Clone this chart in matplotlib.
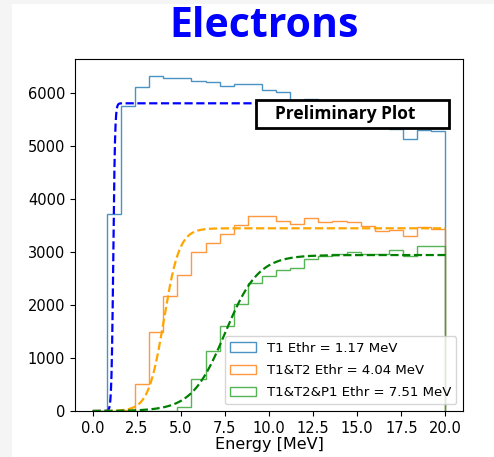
import numpy as np
import matplotlib
matplotlib.use("Agg")
import matplotlib.pyplot as plt
from matplotlib.patches import Rectangle

# bin edges: 25 bins of 0.8 MeV from 0 to 20
bin_lo, bin_hi, n_bins = 0.0, 20.0, 25

t1_counts = [0, 3725, 5750, 6110, 6330, 6285, 6295, 6235, 6205, 6140,
             6170, 6170, 6065, 6015, 5790, 5900, 5760, 5700, 5620, 5520,
             5450, 5320, 5145, 5300, 5290]
t1t2_counts = [0, 0, 10, 515, 1500, 2175, 2575, 3005, 3175, 3350,
               3520, 3678, 3690, 3596, 3540, 3647, 3564, 3583, 3564, 3502,
               3395, 3426, 3295, 3470, 3439]
t1t2p1_counts = [0, 0, 0, 0, 0, 0, 81, 600, 1140, 1598,
                 2020, 2417, 2543, 2656, 2701, 2871, 2934, 2972, 3004, 2972,
                 2960, 3048, 2921, 3123, 3110]

labels = ["T1 Ethr = 1.17 MeV", "T1&T2 Ethr = 4.04 MeV", "T1&T2&P1 Ethr = 7.51 MeV"]

# sigmoid fit parameters: plateau, threshold, width
fit_plateau = [5810, 3450, 2945]
fit_thresh = [1.17, 4.04, 7.51]
fit_width = [0.05, 0.44, 0.94]
fit_colors = ["blue", "orange", "green"]

edges = np.linspace(bin_lo, bin_hi, n_bins + 1)
centers = 0.5 * (edges[:-1] + edges[1:])

fig = plt.figure(figsize=(4.94, 4.57), dpi=100)
fig.patch.set_facecolor("#f5f5f5")
fig.patches.append(Rectangle((12 / 494, 0), 1, (457 - 4) / 457, transform=fig.transFigure,
                             facecolor="white", edgecolor="none", zorder=-1))
ax = fig.add_axes([75 / 494, 46 / 457, 388 / 494, 352 / 457])

hist_colors = ["tab:blue", "tab:orange", "tab:green"]
for counts, lab, c in zip([t1_counts, t1t2_counts, t1t2p1_counts], labels, hist_colors):
    ax.hist(centers, bins=edges, weights=counts, histtype="step", color=c,
            alpha=0.8, lw=1.0, label=lab)

xx = np.linspace(bin_lo, bin_hi, 600)
for a, t, w, c in zip(fit_plateau, fit_thresh, fit_width, fit_colors):
    ax.plot(xx, a / (1 + np.exp(-(xx - t) / w)), "--", color=c, lw=1.6)

ax.set_xticks(np.arange(0, 20.1, 2.5))
ax.set_yticks(np.arange(0, 6001, 1000))
ax.tick_params(labelsize=10.5)
ax.set_xlabel("Energy [MeV]", fontsize=11.5, labelpad=1)

ax.legend(loc="lower right", fontsize=9.5, handlelength=2.0, labelspacing=0.7)

# "Preliminary Plot" box
ax.add_patch(Rectangle((9.29, 5338), 10.94, 530, facecolor="white", edgecolor="black",
                       lw=2, zorder=5))
ax.text(14.3, 5600, "Preliminary Plot", fontsize=12.5, fontweight="bold",
        family="Open Sans", ha="center", va="center", zorder=6)

fig.text(0.535, 0.942, "Electrons", color="blue", fontsize=29.5, fontweight="bold",
         family="Open Sans", ha="center", va="center")

fig.savefig("out.png", dpi=100)
